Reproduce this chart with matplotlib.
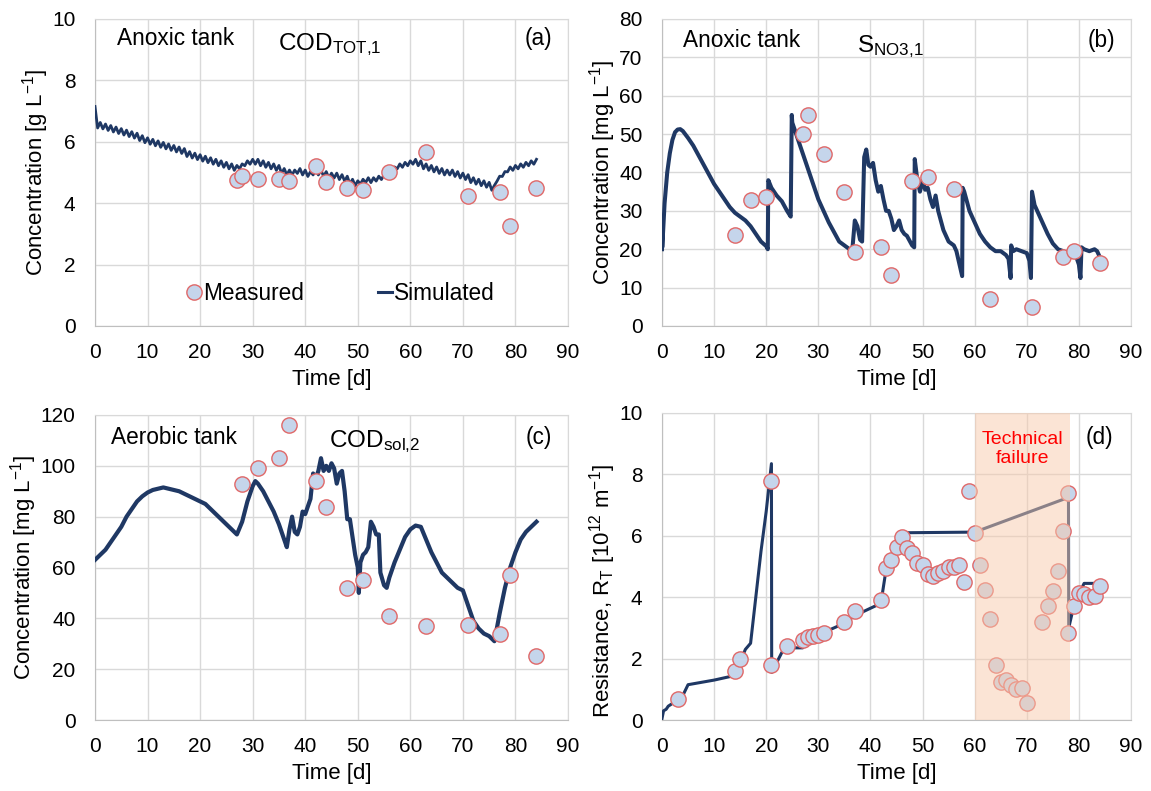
import matplotlib
matplotlib.use("Agg")
import matplotlib.pyplot as plt
from matplotlib.lines import Line2D

plt.rcParams['font.family'] = ['Liberation Sans', 'DejaVu Sans']
plt.rcParams['mathtext.fontset'] = 'custom'
plt.rcParams['mathtext.rm'] = 'Liberation Sans'
plt.rcParams['mathtext.it'] = 'Liberation Sans'
plt.rcParams['mathtext.default'] = 'regular'

# ---------------- data ----------------
# (a) COD_TOT,1 anoxic tank [g/L]
a_start = 7.15
a_tops = [6.63, 6.58, 6.53, 6.48, 6.43, 6.38, 6.33, 6.28, 6.2, 6.13,
          6.08, 6.03, 5.98, 5.93, 5.88, 5.83, 5.78, 5.68, 5.63, 5.58,
          5.53, 5.48, 5.43, 5.38, 5.33, 5.28, 5.23, 5.28, 5.38, 5.43,
          5.43, 5.38, 5.33, 5.28, 5.23, 5.13, 5.08, 5.08, 5.13, 5.08,
          5.03, 5.08, 5.08, 5.03, 4.98, 4.98, 4.93, 4.88, 4.78, 4.73,
          4.78, 4.83, 4.83, 4.88, 4.93, 5.08, 5.18, 5.28, 5.33, 5.38,
          5.43, 5.38, 5.28, 5.23, 5.18, 5.13, 5.08, 5.08, 5.03, 4.98,
          4.93, 4.83, 4.78, 4.73, 4.68, 4.58, 4.88, 5.03, 5.18, 5.23,
          5.28, 5.33, 5.38, 5.43]
a_troughs = [6.45, 6.42, 6.37, 6.32, 6.27, 6.22, 6.17, 6.12, 6.04, 5.97,
             5.92, 5.87, 5.82, 5.77, 5.72, 5.67, 5.62, 5.52, 5.47, 5.42,
             5.37, 5.32, 5.27, 5.22, 5.17, 5.12, 5.07, 5.12, 5.22, 5.27,
             5.27, 5.22, 5.17, 5.12, 5.07, 4.97, 4.92, 4.92, 4.97, 4.92,
             4.87, 4.92, 4.92, 4.87, 4.82, 4.82, 4.77, 4.72, 4.62, 4.57,
             4.62, 4.67, 4.67, 4.72, 4.77, 4.92, 5.02, 5.12, 5.17, 5.22,
             5.27, 5.22, 5.12, 5.07, 5.02, 4.97, 4.92, 4.92, 4.87, 4.82,
             4.77, 4.67, 4.62, 4.57, 4.52, 4.42, 4.72, 4.87, 5.02, 5.07,
             5.12, 5.17, 5.22, 5.27]
a_meas_t = [27, 28, 31, 35, 37, 42, 44, 48, 51, 56, 63, 71, 77, 79, 84]
a_meas_v = [4.75, 4.9, 4.8, 4.8, 4.72, 5.22, 4.7, 4.48, 4.42, 5.02, 5.68, 4.25, 4.38, 3.25, 4.5]

# (b) S_NO3,1 anoxic tank [mg/L]
b_sim_t = [0, 0.02, 0.05, 0.5, 1, 1.5, 2, 2.5, 3, 3.5, 4, 5, 6, 7, 8, 9, 10, 11, 12, 13,
           14, 15, 16, 17, 18, 19, 20, 20.3, 20.4, 21, 22, 23, 24, 24.7, 24.9, 25, 26, 27,
           28, 29, 30, 31, 32, 33, 34, 35, 36, 36.5, 37, 37.5, 38, 38.4, 38.8, 39.2, 39.6,
           40, 40.5, 41, 41.5, 42, 42.5, 43, 43.5, 44, 44.5, 45, 45.5, 46, 46.5, 47, 48,
           48.4, 48.5, 49, 49.5, 50, 50.5, 51, 51.5, 52, 52.5, 53, 53.5, 54, 55, 56, 56.5,
           57, 57.6, 57.7, 58, 59, 60, 61, 62, 63, 64, 65, 66, 66.5, 66.9, 67.0, 67.4, 68,
           69, 70, 70.5, 70.8, 71, 71.5, 72, 73, 74, 75, 76, 77, 78, 78.5, 79, 79.5, 80,
           80.3, 80.5, 81, 82, 83, 83.5, 84]
b_sim_v = [20, 28, 20.5, 32, 40, 45, 48.5, 50.5, 51.2, 51.3, 50.8, 49, 47, 44.5, 42, 39.5, 37, 35, 33, 31,
           29.5, 28.5, 27.5, 26, 24, 22, 20.8, 20, 38, 36, 34, 32.5, 30, 28.5, 55, 53, 49, 45,
           41, 37, 33, 30, 27, 24.5, 22, 21, 20, 19.5, 27.5, 26, 22.5, 22, 44, 46, 42,
           41.5, 42.5, 38, 35, 36.5, 33, 30, 30, 28, 25, 26, 27.5, 25, 24, 23.5, 21,
           20.5, 43.5, 38, 35, 38, 35.5, 36, 33, 31, 34, 30, 27.5, 25, 22, 21, 19.5,
           16.5, 13, 36, 35, 30, 27, 24, 22, 20.5, 19.5, 19.5, 18.5, 17.5, 12.5, 21, 19.5, 20,
           19.5, 19, 17, 12.5, 35, 31.5, 30, 27, 24, 21.5, 20, 19.5, 18.5, 19.5, 19.5, 18, 16,
           12.5, 20.5, 20, 19.5, 20, 19.5, 18]
b_meas_t = [14, 17, 20, 27, 28, 31, 35, 37, 42, 44, 48, 51, 56, 63, 71, 77, 79, 84]
b_meas_v = [23.7, 32.8, 33.6, 50, 55, 44.8, 35, 19.2, 20.5, 13.3, 37.7, 38.9, 35.6, 7.1, 5, 18, 19.5, 16.5]

# (c) COD_sol,2 aerobic tank [mg/L]
c_sim_t = [0, 2, 3, 4, 5, 6, 7, 8, 9, 10, 11, 12, 13, 14, 15, 16, 17, 18, 19, 20, 21, 22, 23,
           24, 25, 26, 27, 28, 29, 30, 30.5, 31, 32, 33, 34, 35, 36, 36.5, 37, 37.5, 38, 38.5,
           39, 39.5, 40, 40.5, 41, 41.5, 42, 42.5, 43, 43.5, 44, 44.5, 45, 45.5, 46, 46.5, 47,
           47.5, 48, 48.5, 49, 49.5, 50, 50.2, 50.5, 51, 51.5, 52, 52.5, 53, 53.5, 54, 54.3,
           55, 55.5, 56, 57, 58, 59, 60, 61, 62, 63, 64, 65, 66, 67, 68, 69, 70, 71, 72, 73,
           74, 75, 76, 77, 78, 79, 80, 81, 82, 83, 84]
c_sim_v = [63, 67, 70, 73, 76, 80, 83, 86, 88, 89.5, 90.5, 91, 91.5, 91, 90.5, 90, 89, 88, 87, 86, 85, 83, 81,
           79, 77, 75, 73, 78, 86, 92, 94, 93, 90, 86, 82, 77, 71, 68, 75, 80, 74, 73,
           76, 82, 81, 84, 87, 97, 95, 98, 103, 98, 100, 98, 101, 99, 93, 97, 98,
           90, 79, 79, 72, 65, 60, 50, 62, 65, 66, 68, 78, 76, 73, 73, 58,
           53, 52, 56, 62, 67, 72, 75, 76.5, 76, 71, 66, 62, 58, 56, 54, 52, 51, 45, 39, 36,
           34, 33, 31, 42, 52, 60, 66, 71, 74, 76, 78]
c_meas_t = [28, 31, 35, 37, 42, 44, 48, 51, 56, 63, 71, 77, 79, 84]
c_meas_v = [93, 99, 103, 116, 94, 84, 52, 55, 41, 37, 37.5, 34, 57, 25]

# (d) total resistance R_T [1e12 1/m]
d_sim_t = [0, 0.3, 0.8, 1.2, 3, 4, 5, 10, 14, 15, 16, 17, 18, 19, 20, 21, 21.05, 23, 24, 27,
           28, 31, 35, 37, 42, 43, 44, 45, 46, 47, 60, 78, 78.05, 79, 80, 81, 83, 84]
d_sim_v = [0.05, 0.3, 0.35, 0.45, 0.65, 0.8, 1.15, 1.3, 1.45, 1.9, 2.3, 2.5, 4.0, 5.5, 6.8, 8.35, 1.55, 2.2, 2.35, 2.35,
           2.6, 2.85, 3.15, 3.4, 3.8, 4.9, 5.2, 5.5, 5.95, 6.1, 6.12, 7.25, 3.0, 3.7, 4.1, 4.45, 4.45, 4.3]
d_meas_t = [3, 14, 15, 21, 21, 24, 27, 28, 29, 30, 31, 35, 37, 42, 43, 44, 45, 46, 47, 48, 49, 50,
            51, 52, 53, 54, 55, 56, 57, 58, 59, 60, 61, 62, 63, 64, 65, 66, 67, 68, 69, 70,
            73, 74, 75, 76, 77, 78, 78, 79, 80, 81, 82, 83, 84]
d_meas_v = [0.7, 1.6, 2.0, 7.8, 1.8, 2.4, 2.6, 2.7, 2.72, 2.78, 2.85, 3.2, 3.55, 3.9, 4.95, 5.2, 5.65, 5.95, 5.6, 5.45, 5.1, 5.05,
            4.75, 4.7, 4.8, 4.85, 5.0, 5.0, 5.05, 4.5, 7.45, 6.1, 5.05, 4.25, 3.3, 1.8, 1.25, 1.3, 1.15, 1.0, 1.05, 0.55,
            3.2, 3.7, 4.2, 4.85, 6.15, 7.4, 2.85, 3.7, 4.15, 4.1, 4.0, 4.05, 4.35]
failure_span = (60, 78.3)

# ---------------- styling ----------------
LINE = '#1f3864'
MFACE = '#c5d5eb'
MEDGE = '#e06868'
GRID = '#d9d9d9'
FS_TICK = 15
FS_LAB = 16
FS_TXT = 16.3
FS_VAR = 17.5

fig = plt.figure(figsize=(11.51, 7.91), dpi=100)
W, H = 1151, 791

def make_ax(l, r, t, b):
    return fig.add_axes([l / W, 1 - b / H, (r - l) / W, (b - t) / H])

axa = make_ax(95, 568, 19, 326)
axb = make_ax(662, 1131, 19, 326)
axc = make_ax(95, 568, 415, 720)
axd = make_ax(662, 1131, 413, 720)

def style(ax, ymax, ystep, ylabel, ly=0.5):
    ax.set_xlim(0, 90)
    ax.set_ylim(0, ymax)
    ax.set_xticks(range(0, 91, 10))
    ax.set_yticks(range(0, ymax + 1, ystep))
    ax.grid(True, color=GRID, lw=1)
    ax.set_axisbelow(True)
    for s in ['top', 'right']:
        ax.spines[s].set_color(GRID)
    for s in ['left', 'bottom']:
        ax.spines[s].set_color('#bfbfbf')
    ax.tick_params(axis='y', length=0, labelsize=FS_TICK, pad=14)
    ax.tick_params(axis='x', length=0, labelsize=FS_TICK, pad=12)
    ax.set_xlabel('Time [d]', fontsize=FS_LAB, labelpad=5)
    ax.set_ylabel(ylabel, fontsize=FS_LAB, labelpad=1, y=ly)

def meas(ax, t, v, **kw):
    ax.plot(t, v, ls='none', marker='o', ms=11, mfc=MFACE, mec=MEDGE, mew=1.0, zorder=4, **kw)

# (a)
a_t = [0]
a_v = [a_start]
for i in range(len(a_tops)):
    a_t += [i + 0.5, i + 1]
    a_v += [a_troughs[i], a_tops[i]]
style(axa, 10, 2, 'Concentration [g L$^{-1}$]')
axa.plot(a_t, a_v, color=LINE, lw=2.0, zorder=3, label='Simulated')
meas(axa, a_meas_t, a_meas_v, label='Measured')
axa.text(4.2, 9.38, 'Anoxic tank', fontsize=FS_TXT, va='center')
axa.text(34.8, 9.15, 'COD$_{TOT{,}1}$', fontsize=FS_VAR, va='center')
axa.text(87, 9.38, '(a)', fontsize=FS_TXT, va='center', ha='right')
h_m = Line2D([], [], ls='none', marker='o', ms=11, mfc=MFACE, mec=MEDGE)
h_s = Line2D([], [], color=LINE, lw=2.2)
axa.legend([h_m, h_s], ['Measured', 'Simulated'], ncol=2, frameon=False,
           loc='center', bbox_to_anchor=(0.52, 0.107), fontsize=FS_TXT,
           handlelength=0.6, handletextpad=0.1, columnspacing=3.3)

# (b)
style(axb, 80, 10, 'Concentration [mg L$^{-1}$]')
axb.plot(b_sim_t, b_sim_v, color=LINE, lw=2.9, zorder=3)
meas(axb, b_meas_t, b_meas_v)
axb.text(4.0, 74.5, 'Anoxic tank', fontsize=FS_TXT, va='center')
axb.text(37.5, 72.8, 'S$_{NO3{,}1}$', fontsize=FS_VAR, va='center')
axb.text(87, 74.5, '(b)', fontsize=FS_TXT, va='center', ha='right')

# (c)
style(axc, 120, 20, 'Concentration [mg L$^{-1}$]')
axc.plot(c_sim_t, c_sim_v, color=LINE, lw=3.0, zorder=3)
meas(axc, c_meas_t, c_meas_v)
axc.text(3.0, 111, 'Aerobic tank', fontsize=FS_TXT, va='center')
axc.text(44.5, 109.5, 'COD$_{sol{,}2}$', fontsize=FS_VAR, va='center')
axc.text(87, 111, '(c)', fontsize=FS_TXT, va='center', ha='right')

# (d)
style(axd, 10, 2, 'Resistance, R$_{T}$ [10$^{12}$ m$^{-1}$]', ly=0.42)
axd.plot(d_sim_t, d_sim_v, color=LINE, lw=2.2, zorder=3)
meas(axd, d_meas_t, d_meas_v)
axd.axvspan(*failure_span, color='#f8cbad', alpha=0.5, lw=0, zorder=5)
axd.text(69.2, 8.84, 'Technical\nfailure', fontsize=14, color='#ff0000',
         ha='center', va='center', linespacing=1.15, zorder=6)
axd.text(86.5, 9.2, '(d)', fontsize=FS_TXT, va='center', ha='right', zorder=6)

fig.savefig('out.png', dpi=100)
